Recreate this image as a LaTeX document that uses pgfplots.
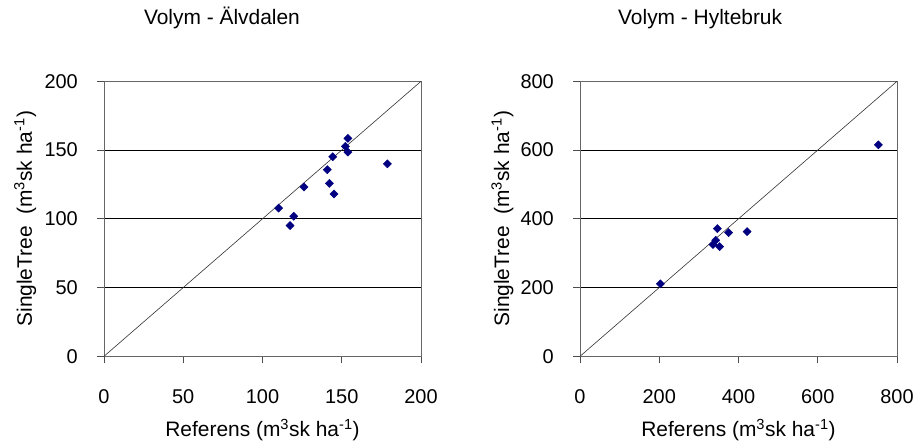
\documentclass[border=0pt]{standalone}
\usepackage{pgfplots}
\pgfplotsset{compat=1.18}
\usepackage{fontspec}
\setmainfont{Liberation Sans}
\definecolor{pt}{RGB}{0,0,128}
\pgfplotsset{
  myax/.style={
    scale only axis, width=317bp, height=275bp,
    xmin=0, ymin=0,
    /pgf/number format/assume math mode=true,
    tick label style={font=\fontsize{20}{24}\selectfont},
    label style={font=\fontsize{21}{25}\selectfont},
    title style={font=\fontsize{21}{25}\selectfont, anchor=base, yshift=50.7bp},
    axis line style={black!60, line width=0.8bp},
    ymajorgrids, major grid style={black, line width=0.7bp},
    tick align=outside, major tick length=7bp,
    tick style={black!70, line width=0.8bp},
    xtick pos=bottom, ytick pos=left,
    xticklabel style={anchor=base, yshift=-40.4bp, inner sep=0pt},
    yticklabel style={anchor=east, xshift=-19bp, inner sep=0pt},
    xlabel style={at={(axis description cs:0.5,0)}, anchor=base, yshift=-80.4bp, inner sep=0pt},
    ylabel style={at={(axis description cs:0,0.5)}, anchor=center, xshift=0bp, inner sep=0pt},
    xlabel={Referens (m\textsuperscript{3}sk ha\textsuperscript{-1})},
    ylabel={SingleTree\ \ (m\textsuperscript{3}sk ha\textsuperscript{-1})},
    clip=false,
  },
  pts/.style={only marks, mark=square*, mark size=2.9bp, mark options={rotate=45, fill=pt, draw=pt}},
  diag/.style={black!80, line width=0.6bp},
}
\begin{document}
\begin{tikzpicture}
\useasboundingbox (0,0) rectangle (919bp,441bp);
\begin{axis}[myax, at={(104bp,84.7bp)}, anchor=south west,
  xmax=200, ymax=200, xtick={0,50,100,150,200}, ytick={0,50,100,150,200},
  title={Volym - Älvdalen}, title style={at={(rel axis cs:0.372,1)}},
  ylabel style={xshift=0bp}, ylabel shift=0bp,
  every axis y label/.append style={at={(axis description cs:-0.249,0.5)}}]
\addplot[diag] coordinates {(0,0) (200,200)};
\addplot[pts] coordinates {
(110.2,107.8) (117.4,95.1) (119.7,101.9) (126.2,123.1) (140.9,135.7)
(142.2,125.7) (144.3,145.1) (145.1,118.0) (152.3,152.7) (153.9,158.5)
(153.9,148.5) (178.8,140.0)};
\end{axis}
\begin{axis}[myax, at={(580bp,84.7bp)}, anchor=south west,
  xmax=800, ymax=800, xtick={0,200,400,600,800}, ytick={0,200,400,600,800},
  title={Volym - Hyltebruk}, title style={at={(rel axis cs:0.379,1)}},
  every axis y label/.append style={at={(axis description cs:-0.245,0.5)}}]
\addplot[diag] coordinates {(0,0) (800,800)};
\addplot[pts] coordinates {
(203,210.8) (335.7,325) (342.4,337.5) (346.6,371.4) (352.4,319.1)
(375,359.8) (421.7,362.7) (753.2,615.1)};
\end{axis}
\end{tikzpicture}
\end{document}
